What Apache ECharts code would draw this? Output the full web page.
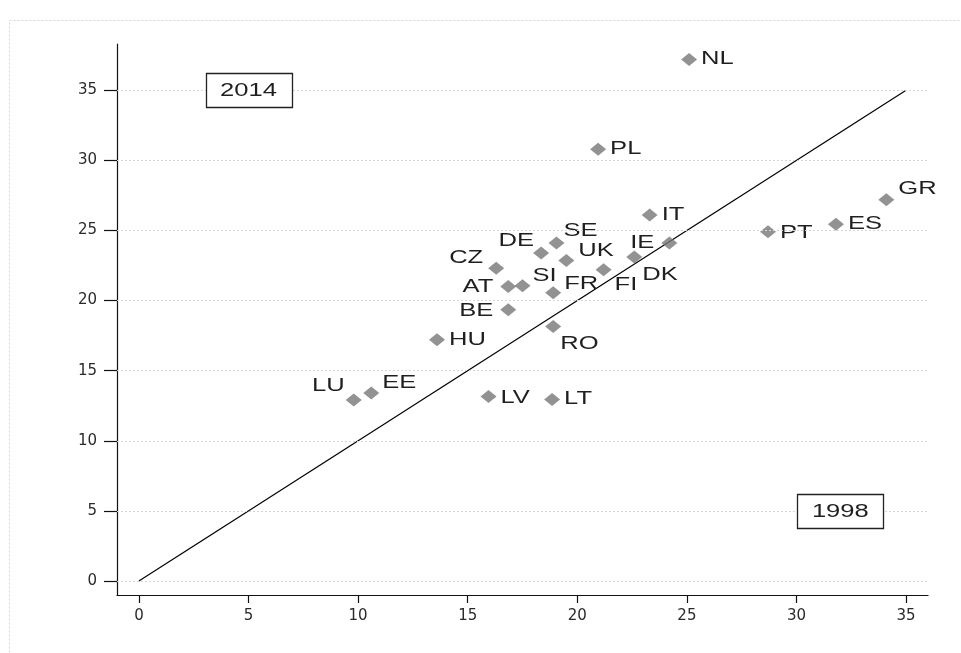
<!DOCTYPE html>
<html>
<head>
<meta charset="utf-8">
<title>1998 vs 2014</title>
<script src="https://cdn.jsdelivr.net/npm/echarts@6/dist/echarts.min.js"></script>
<style>
  html, body { margin: 0; padding: 0; background: #ffffff; }
  #chart { width: 961px; height: 653px; }
</style>
</head>
<body>
<div id="chart"></div>
<script>
// Country codes with their 1998 (x) and 2014 (y) values
const countries = ['NL', 'PL', 'IT', 'IE', 'DK', 'SE', 'DE', 'UK', 'CZ', 'FI', 'AT', 'SI',
                   'FR', 'BE', 'RO', 'HU', 'LU', 'EE', 'LV', 'LT', 'PT', 'ES', 'GR'];
const value1998 = [25.1, 20.95, 23.3, 24.2, 22.6, 19.05, 18.35, 19.5, 16.3, 21.2, 16.85, 17.5,
                   18.9, 16.85, 18.9, 13.6, 9.8, 10.6, 15.95, 18.85, 28.7, 31.8, 34.1];
const value2014 = [37.2, 30.8, 26.1, 24.1, 23.1, 24.1, 23.4, 22.85, 22.3, 22.2, 21.0, 21.05,
                   20.55, 19.35, 18.15, 17.2, 12.9, 13.4, 13.15, 12.95, 24.9, 25.45, 27.2];

// Axis ticks
const xTicks = [0, 5, 10, 15, 20, 25, 30, 35];
const yTicks = [0, 5, 10, 15, 20, 25, 30, 35];

// 45-degree reference line
const diagX = [0, 35];
const diagY = [0, 35];

// Year annotations
const noteX = [5, 32];
const noteY = [35, 5];
const noteText = ['2014', '1998'];

// Label placement per country: side of the marker, horizontal gap and vertical shift (px)
const labelPlace = {
  NL: ['r', 12, 0], PL: ['r', 12, 0], IT: ['r', 12, 0], IE: ['l', 15, 0],
  DK: ['r', 8, 18], SE: ['r', 7, -12], DE: ['l', 7, -12], UK: ['r', 12, -10],
  CZ: ['l', 13, -10], FI: ['r', 11, 15], AT: ['l', 15, 0], SI: ['r', 10, -10],
  FR: ['r', 11, -9], BE: ['l', 15, 1], RO: ['r', 7, 18], HU: ['r', 12, 0],
  LU: ['l', 9, -14], EE: ['r', 11, -10], LV: ['r', 12, 1], LT: ['r', 12, 0],
  PT: ['r', 12, 1], ES: ['r', 12, 0], GR: ['r', 12, -11]
};

const STRETCH = 1.42;
const textFont = '18px "Liberation Sans", Arial, sans-serif';
const textColor = '#1f1f1f';

const points = countries.map((c, i) => [value1998[i], value2014[i], c]);
const notes = noteText.map((t, i) => [noteX[i], noteY[i], t]);

const chart = echarts.init(document.getElementById('chart'), null, { renderer: 'canvas' });

chart.setOption({
  animation: false,
  backgroundColor: '#ffffff',
  graphic: [{
    type: 'rect',
    shape: { x: 9.5, y: 20.5, width: 1000, height: 700 },
    style: { fill: 'none', stroke: '#d4d4d4', lineWidth: 1, lineDash: [2, 2] },
    silent: true,
    z: -10
  }],
  grid: { left: 117, right: 33, top: 44, bottom: 58 },
  xAxis: {
    type: 'value',
    min: -1,
    max: 36,
    axisLine: { show: true, onZero: false, lineStyle: { color: '#111', width: 1.2 } },
    axisTick: { show: true, length: 8, customValues: xTicks, lineStyle: { color: '#111', width: 1.2 } },
    axisLabel: {
      customValues: xTicks, margin: 14, color: '#2a2a2a',
      fontFamily: '"DejaVu Sans", sans-serif', fontSize: 15
    },
    splitLine: { show: false }
  },
  yAxis: {
    type: 'value',
    min: -1,
    max: 38.3,
    axisLine: { show: true, onZero: false, lineStyle: { color: '#111', width: 1.2 } },
    axisTick: { show: true, length: 13, customValues: yTicks, lineStyle: { color: '#111', width: 1.2 } },
    axisLabel: {
      customValues: yTicks, margin: 20, color: '#2a2a2a',
      fontFamily: '"DejaVu Sans", sans-serif', fontSize: 15
    },
    splitLine: { show: false }
  },
  series: [
    {
      // horizontal grid lines at the y ticks
      type: 'line',
      data: [],
      silent: true,
      z: 1,
      markLine: {
        silent: true,
        symbol: 'none',
        label: { show: false },
        lineStyle: { color: '#d6d6d6', width: 1, type: [2, 2] },
        data: yTicks.map(v => ({ yAxis: v }))
      }
    },
    {
      type: 'line',
      data: diagX.map((x, i) => [x, diagY[i]]),
      symbol: 'none',
      silent: true,
      z: 2,
      lineStyle: { color: '#000', width: 1.2 }
    },
    {
      type: 'scatter',
      data: points,
      symbol: 'diamond',
      symbolSize: [16, 13],
      itemStyle: { color: '#777777' },
      z: 3
    },
    {
      // country code labels
      type: 'custom',
      data: points,
      silent: true,
      z: 4,
      renderItem: function (params, api) {
        const p = api.coord([api.value(0), api.value(1)]);
        const name = points[params.dataIndex][2];
        const place = labelPlace[name] || ['r', 12, 0];
        const right = place[0] === 'r';
        return {
          type: 'text',
          x: p[0] + (right ? place[1] : -place[1]),
          y: p[1] + place[2],
          scaleX: STRETCH,
          style: {
            text: name,
            font: textFont,
            fill: textColor,
            align: right ? 'left' : 'right',
            verticalAlign: 'middle'
          }
        };
      }
    },
    {
      // boxed year annotations
      type: 'custom',
      data: notes,
      silent: true,
      z: 5,
      renderItem: function (params, api) {
        const p = api.coord([api.value(0), api.value(1)]);
        const label = notes[params.dataIndex][2];
        const w = 86, h = 34;
        return {
          type: 'group',
          children: [
            {
              type: 'rect',
              shape: { x: Math.round(p[0] - w / 2) + 0.5, y: Math.round(p[1] - h / 2) + 0.5, width: w, height: h },
              style: { fill: '#ffffff', stroke: '#222', lineWidth: 1.3 }
            },
            {
              type: 'text',
              x: p[0],
              y: p[1] + 1,
              scaleX: STRETCH,
              style: {
                text: label,
                font: textFont,
                fill: textColor,
                align: 'center',
                verticalAlign: 'middle'
              }
            }
          ]
        };
      }
    }
  ]
});
</script>
</body>
</html>
